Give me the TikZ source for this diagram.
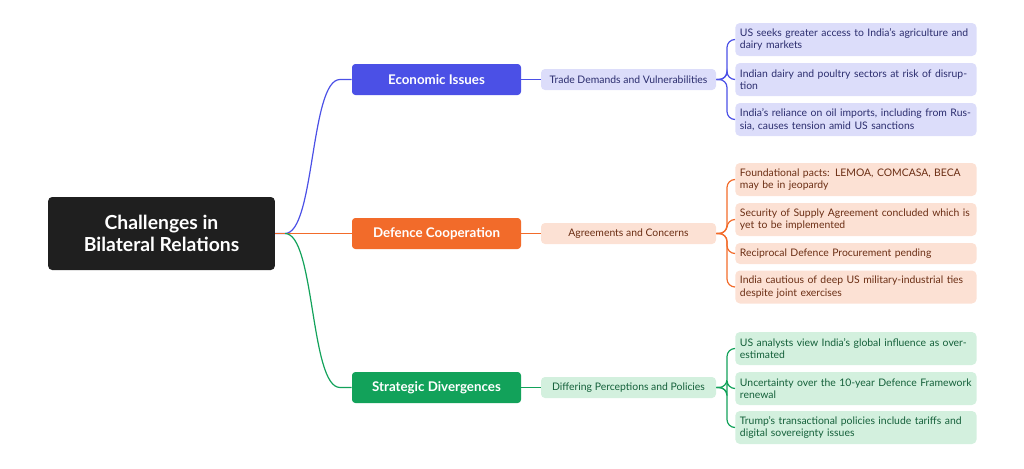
\documentclass[tikz,border=0pt]{standalone}
\usepackage{fontspec}
\setmainfont{Lato}
\begin{document}
\begin{tikzpicture}[x=0.75pt,y=-0.75pt,
 root/.style={fill=black!88,rounded corners=3pt,text=white,font=\fontsize{14.5}{17}\selectfont\bfseries,align=center,minimum width=170pt,minimum height=54.75pt,inner sep=0},
 br/.style={fill=#1,rounded corners=2.5pt,text=white,font=\fontsize{10}{12}\selectfont\bfseries,minimum width=126.75pt,minimum height=23.25pt,inner sep=0},
 sub/.style={fill=#1,rounded corners=3pt,font=\fontsize{7.8}{9}\selectfont,minimum width=131.25pt,minimum height=15.75pt,inner sep=0},
 leaf/.style={fill=#1,rounded corners=3.5pt,font=\fontsize{7.8}{9.4}\selectfont,align=left,text width=174pt,minimum width=181pt,inner sep=2.5pt,anchor=west},
 ln/.style={draw=#1,line width=0.9pt}]
\useasboundingbox (0,0) rectangle (1024,468);
\definecolor{cb}{HTML}{4B50E6}\definecolor{co}{HTML}{F26B2A}\definecolor{cg}{HTML}{12A25A}
\definecolor{lb}{HTML}{DCDDFA}\definecolor{lo}{HTML}{FCE1D4}\definecolor{lg}{HTML}{D3F0DE}
\definecolor{tb}{HTML}{2B2D6E}\definecolor{to}{HTML}{6B2E14}\definecolor{tg}{HTML}{14603A}
\node[root] (r) at (161.5,233.5) {Challenges in\\Bilateral Relations};
\node[br=cb] (e) at (436.5,79.5) {Economic Issues};
\node[br=co] (d) at (436.5,233.5) {Defence Cooperation};
\node[br=cg] (s) at (436.5,387.5) {Strategic Divergences};
\node[sub=lb,text=tb] (e1) at (628.5,79.5) {Trade Demands and Vulnerabilities};
\node[sub=lo,text=to] (d1) at (628.5,233.5) {Agreements and Concerns};
\node[sub=lg,text=tg] (s1) at (628.5,387.5) {Differing Perceptions and Policies};
\node[leaf=lb,text=tb,minimum height=24.75pt] (a1) at (735,39.5) {US seeks greater access to India's agriculture and dairy markets};
\node[leaf=lb,text=tb,minimum height=24.75pt] (a2) at (735,79.5) {Indian dairy and poultry sectors at risk of disruption};
\node[leaf=lb,text=tb,minimum height=24.75pt] (a3) at (735,119.5) {India's reliance on oil imports, including from Russia, causes tension amid US sanctions};
\node[leaf=lo,text=to,minimum height=24.75pt] (b1) at (735,179.5) {Foundational pacts: LEMOA, COMCASA, BECA may be in jeopardy};
\node[leaf=lo,text=to,minimum height=24.75pt] (b2) at (735,219.5) {Security of Supply Agreement concluded which is yet to be implemented};
\node[leaf=lo,text=to,minimum height=15.75pt] (b3) at (735,253.5) {Reciprocal Defence Procurement pending};
\node[leaf=lo,text=to,minimum height=24.75pt] (b4) at (735,287) {India cautious of deep US military-industrial ties despite joint exercises};
\node[leaf=lg,text=tg,minimum height=24.75pt] (c1) at (735,348.5) {US analysts view India's global influence as overestimated};
\node[leaf=lg,text=tg,minimum height=24.75pt] (c2) at (735,388.5) {Uncertainty over the 10-year Defence Framework renewal};
\node[leaf=lg,text=tg,minimum height=24.75pt] (c3) at (735,427.5) {Trump's transactional policies include tariffs and digital sovereignty issues};
\draw[ln=cb] (r.east) -- (285,233.5) .. controls (315,233.5) and (310,79.5) .. (340,79.5) -- (e.west);
\draw[ln=co] (r.east) -- (e.west|-r.east) -- (d.west);
\draw[ln=cg] (285,233.5) .. controls (315,233.5) and (310,387.5) .. (340,387.5) -- (s.west);
\draw[ln=cb] (e) -- (e1);
\draw[ln=co] (d) -- (d1);
\draw[ln=cg] (s) -- (s1);
\foreach \p/\c/\l in {e1/cb/a1,e1/cb/a2,e1/cb/a3,d1/co/b1,d1/co/b2,d1/co/b3,d1/co/b4,s1/cg/c1,s1/cg/c2,s1/cg/c3}
 \draw[ln=\c,rounded corners=6pt] (\p.east) -- (727,0|-\p.east) |- (\l.west);
\end{tikzpicture}
\end{document}
